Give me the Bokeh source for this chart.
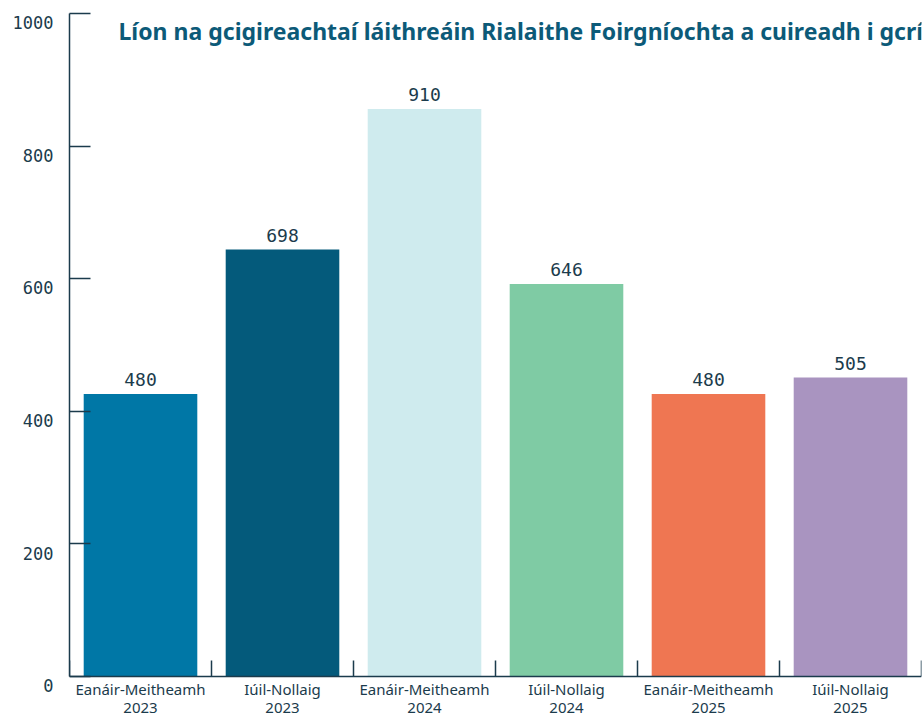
from bokeh.plotting import figure
from bokeh.models import Range1d, LinearAxis, FixedTicker, Label, ColumnDataSource
from bokeh.embed import file_html
from bokeh.resources import INLINE
from bokeh.core.properties import value

title_text = "Líon na gcigireachtaí láithreáin Rialaithe Foirgníochta a cuireadh i gcrích"
periods = ["Eanáir-Meitheamh", "Iúil-Nollaig", "Eanáir-Meitheamh",
           "Iúil-Nollaig", "Eanáir-Meitheamh", "Iúil-Nollaig"]
years = ["2023", "2023", "2024", "2024", "2025", "2025"]
counts = [480, 698, 910, 646, 480, 505]
colors = ["#0077a6", "#045a7b", "#cfebee", "#7fcba4", "#ef7652", "#a994c0"]
y_ticks = [0, 200, 400, 600, 800, 1000]
# in the original the bars stand about this much lower than their labels
bar_offset = 54

DARK = "#1b3b4c"
n = len(counts)
xs = list(range(n))
cat_labels = [f"{p}\n{y}" for p, y in zip(periods, years)]

src = ColumnDataSource(dict(x=xs, top=[c - bar_offset for c in counts],
                            color=colors, txt=[str(c) for c in counts]))

p = figure(width=922, height=718, output_backend="svg", toolbar_location=None,
           x_range=Range1d(-0.5, n - 0.5), y_range=Range1d(-63.3, 1000),
           y_axis_location=None,
           min_border_left=69, min_border_right=1, min_border_top=13,
           min_border_bottom=0)
p.extra_y_ranges = {"axis_lbl": Range1d(-63.3 + 14, 1014)}
p.outline_line_color = None
p.xgrid.visible = False
p.ygrid.visible = False
p.background_fill_color = "white"

p.vbar(x="x", top="top", bottom=0, width=0.8, color="color",
       line_color=None, source=src)

p.text(x="x", y="top", text="txt", source=src, text_align="center",
       text_baseline="bottom", y_offset=-8,
       text_font=value("DejaVu Sans Mono"), text_font_size="18px",
       text_color=DARK)

# axis line + ticks
ya = LinearAxis(ticker=FixedTicker(ticks=y_ticks),
                bounds=(y_ticks[0], y_ticks[-1]))
ya.axis_line_color = DARK
ya.axis_line_width = 1.5
ya.major_tick_line_color = DARK
ya.major_tick_line_width = 1.5
ya.major_tick_in = 21
ya.major_tick_out = 0
ya.minor_tick_line_color = None
ya.major_label_standoff = 0
ya.major_label_overrides = {t: "" for t in y_ticks}
p.add_layout(ya, "left")

# tick labels (sit slightly below their ticks, as in the original)
yl = LinearAxis(y_range_name="axis_lbl", ticker=FixedTicker(ticks=y_ticks))
yl.axis_line_color = None
yl.major_tick_line_color = None
yl.minor_tick_line_color = None
yl.major_tick_in = 0
yl.major_tick_out = 0
yl.major_label_standoff = 16
yl.major_label_text_font = "DejaVu Sans Mono"
yl.major_label_text_font_size = "17px"
yl.major_label_text_color = DARK
p.add_layout(yl, "left")

xa = p.xaxis[0]
xa.fixed_location = 0
xa.ticker = FixedTicker(ticks=xs, minor_ticks=[i - 0.5 for i in range(n + 1)])
xa.major_label_overrides = {i: lab for i, lab in zip(xs, cat_labels)}
xa.axis_line_color = DARK
xa.axis_line_width = 1.5
xa.major_tick_in = 0
xa.major_tick_out = 0
xa.major_tick_line_color = None
xa.minor_tick_in = 16
xa.minor_tick_out = 0
xa.minor_tick_line_color = DARK
xa.minor_tick_line_width = 1.5
xa.major_label_standoff = 2
xa.major_label_text_font = "Noto Sans"
xa.major_label_text_font_size = "15px"
xa.major_label_text_color = DARK
xa.major_label_text_line_height = 0.92

title = Label(x=-0.155, y=974, text=title_text,
              text_font="Noto Sans", text_font_style="bold",
              text_font_size="23px", text_color="#0c5a78",
              text_baseline="alphabetic", text_align="left")
p.add_layout(title)

open("out.html", "w").write(file_html(p, INLINE))
